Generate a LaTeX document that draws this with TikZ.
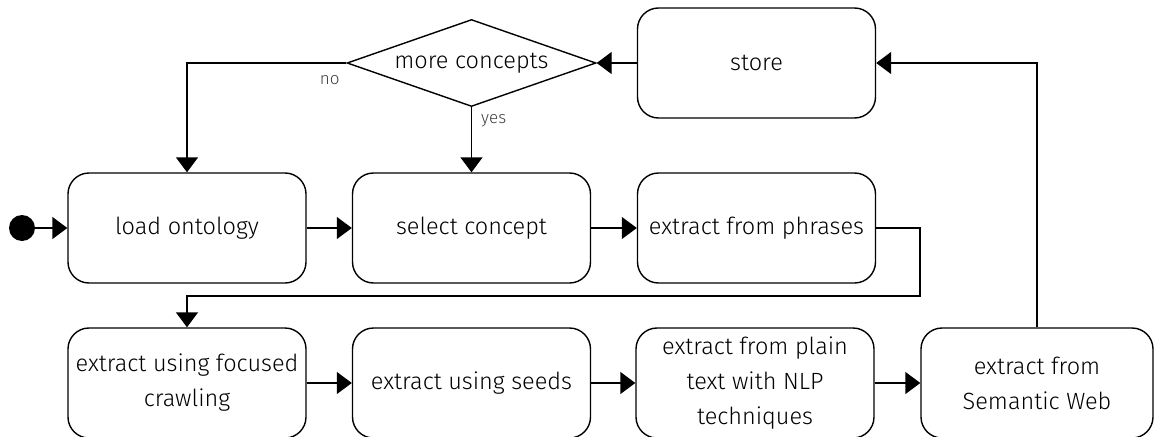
\documentclass[tikz,border=0pt]{standalone}
\usepackage{fontspec}
\setmainfont{Fira Sans Light}
\usetikzlibrary{arrows.meta,shapes.geometric}

\tikzset{
  every picture/.style={x=1pt,y=-1pt},
  act/.style={draw, line width=1.4pt, rounded corners=21pt,
    minimum width=238pt, minimum height=110pt, align=center,
    font=\fontsize{23.5}{35}\selectfont, inner sep=2pt},
  decide/.style={draw, line width=1.4pt, shape=diamond, aspect=2.86,
    inner sep=0pt, minimum width=249pt, minimum height=87pt,
    font=\fontsize{23.5}{35}\selectfont},
  startdot/.style={circle, fill=black, minimum size=26pt, inner sep=0pt},
  flow/.style={line width=1.4pt, -{Triangle[length=15pt,width=22pt]}},
  lab/.style={font=\fontsize{17}{19}\selectfont, text=black!75, inner sep=0pt},
}

\begin{document}
\begin{tikzpicture}
\useasboundingbox (0,0) rectangle (1155,436);
\clip (0,0) rectangle (1155,436);

% top row: decision and storage
\node[decide] (more) at (471.5,63) {more concepts};
\node[act] (store) at (756.5,63) {store};

% middle row
\node[startdot] (init) at (22,228) {};
\node[act] (load) at (187,228) {load ontology};
\node[act] (select) at (471.5,228) {select concept};
\node[act] (phrases) at (756.5,228) {extract from phrases};

% bottom row
\node[act] (crawl) at (187,383) {extract using focused\\crawling};
\node[act] (seeds) at (471.5,383) {extract using seeds};
\node[act] (nlp) at (755,383) {extract from plain\\text with NLP\\techniques};
\node[act, minimum width=232pt] (semweb) at (1037,383) {extract from\\Semantic Web};

\coordinate (wrap) at (920,296);

% connectors
\draw[flow] (init) -- (load);
\draw[flow] (load) -- (select);
\draw[flow] (select) -- (phrases);
\draw[flow] (phrases.east) -| (wrap) -| (crawl.north);
\draw[flow] (crawl) -- (seeds);
\draw[flow] (seeds) -- (nlp);
\draw[flow] (nlp) -- (semweb);
\draw[flow] (semweb.north) |- (store.east);
\draw[flow] (store.west) -- (more.east);
\draw[flow] (more.west) node[lab, anchor=north east, xshift=-6pt, yshift=-12pt] {no} -| (load.north);
\draw[flow] (more.south) node[lab, anchor=north west, xshift=9pt, yshift=-7pt] {yes} -- (select.north);
\end{tikzpicture}
\end{document}
